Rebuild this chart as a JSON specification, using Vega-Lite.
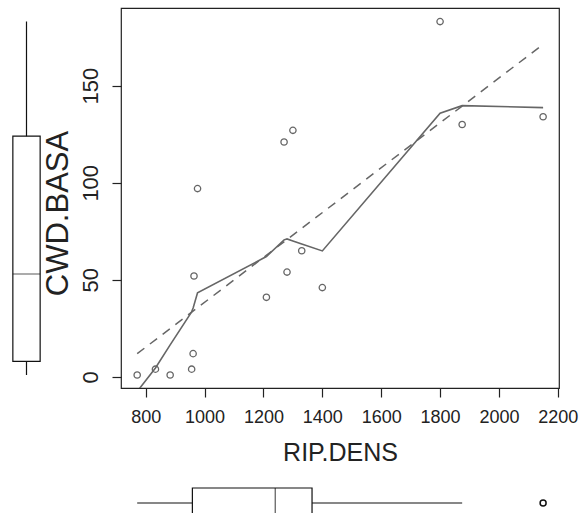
{
  "$schema": "https://vega.github.io/schema/vega-lite/v6.json",
  "padding": {"left": 0, "top": 7, "right": 0, "bottom": 0},
  "autosize": {"type": "pad"},
  "background": "white",
  "config": {
    "view": {"stroke": null},
    "font": "Liberation Sans",
    "axis": {"grid": false, "domain": false, "tickColor": "#222", "tickWidth": 1.2, "labelColor": "#222", "titleColor": "#222", "titleFontWeight": "normal", "labelFont": "Liberation Sans", "titleFont": "Liberation Sans"}
  },
  "datasets": {
    "lakes": [
      {"RIP": 1270, "CWD": 121}, {"RIP": 1210, "CWD": 41}, {"RIP": 1800, "CWD": 183}, {"RIP": 1875, "CWD": 130},
      {"RIP": 1300, "CWD": 127}, {"RIP": 2150, "CWD": 134}, {"RIP": 1330, "CWD": 65}, {"RIP": 964, "CWD": 52},
      {"RIP": 961, "CWD": 12}, {"RIP": 1400, "CWD": 46}, {"RIP": 1280, "CWD": 54}, {"RIP": 976, "CWD": 97},
      {"RIP": 771, "CWD": 1}, {"RIP": 833, "CWD": 4}, {"RIP": 883, "CWD": 1}, {"RIP": 956, "CWD": 4}
    ],
    "lowess": [
      {"RIP": 771, "CWD": -7.5}, {"RIP": 833, "CWD": 4.6}, {"RIP": 883, "CWD": 16.5}, {"RIP": 956, "CWD": 33.5},
      {"RIP": 961, "CWD": 35.5}, {"RIP": 964, "CWD": 37}, {"RIP": 976, "CWD": 43.3}, {"RIP": 1210, "CWD": 62},
      {"RIP": 1270, "CWD": 70.6}, {"RIP": 1280, "CWD": 71.1}, {"RIP": 1300, "CWD": 70}, {"RIP": 1330, "CWD": 68.4},
      {"RIP": 1400, "CWD": 64.9}, {"RIP": 1800, "CWD": 135.8}, {"RIP": 1875, "CWD": 139.7}, {"RIP": 2150, "CWD": 138.7}
    ],
    "boxCWD": [{"variable": "CWD.BASA", "lower": 1, "q1": 8, "median": 53, "q3": 124, "upper": 183}],
    "boxRIP": [{"variable": "RIP.DENS", "lower": 771, "q1": 958.5, "median": 1240, "q3": 1365, "upper": 1875}],
    "outRIP": [{"variable": "RIP.DENS", "RIP": 2150}]
  },
  "bounds": "flush",
  "spacing": 68,
  "hconcat": [
    {
      "width": 53,
      "height": 380,
      "data": {"name": "boxCWD"},
      "view": {"fill": "white", "stroke": null},
      "encoding": {
        "x": {"field": "variable", "type": "nominal", "axis": null, "scale": {"paddingInner": 0, "paddingOuter": 0}}
      },
      "layer": [
        {
          "mark": {"type": "rule", "color": "#111", "strokeWidth": 1.2},
          "encoding": {
            "y": {"field": "lower", "type": "quantitative", "axis": null, "scale": {"domain": [-5.7, 190], "nice": false, "zero": false}},
            "y2": {"field": "upper"}
          }
        },
        {
          "mark": {"type": "bar", "size": 27.3, "fill": "white", "stroke": "#111", "strokeWidth": 1.2},
          "encoding": {
            "y": {"field": "q1", "type": "quantitative", "axis": null},
            "y2": {"field": "q3"}
          }
        },
        {
          "mark": {"type": "tick", "size": 27.3, "thickness": 1.2, "color": "#111"},
          "encoding": {
            "y": {"field": "median", "type": "quantitative", "axis": null}
          }
        }
      ]
    },
    {
      "bounds": "flush",
      "spacing": 98,
      "vconcat": [
        {
          "width": 438,
          "height": 380,
          "view": {"stroke": "#222", "strokeWidth": 1.2},
          "encoding": {
            "x": {
              "field": "RIP", "type": "quantitative",
              "scale": {"domain": [716, 2204], "nice": false, "zero": false},
              "axis": {"values": [800, 1000, 1200, 1400, 1600, 1800, 2000, 2200], "format": "d", "tickSize": 9, "labelFontSize": 18, "labelPadding": 11, "title": "RIP.DENS", "titleFontSize": 25, "titlePadding": 14, "labelFlush": false}
            },
            "y": {
              "field": "CWD", "type": "quantitative",
              "scale": {"domain": [-5.7, 190], "nice": false, "zero": false},
              "axis": {"values": [0, 50, 100, 150], "format": "d", "tickSize": 9, "labelFontSize": 22, "labelAngle": -90, "labelPadding": 10, "title": "CWD.BASA", "titleFontSize": 31, "titlePadding": 5, "titleY": 205}
            }
          },
          "layer": [
            {
              "data": {"name": "lakes"},
              "transform": [{"regression": "CWD", "on": "RIP"}],
              "mark": {"type": "line", "strokeDash": [9, 7], "color": "#666666", "strokeWidth": 1.5}
            },
            {
              "data": {"name": "lowess"},
              "mark": {"type": "line", "clip": true, "color": "#666666", "strokeWidth": 1.6}
            },
            {
              "data": {"name": "lakes"},
              "mark": {"type": "point", "shape": "circle", "filled": false, "size": 40, "color": "#666666", "strokeWidth": 1.3, "opacity": 1}
            }
          ]
        },
        {
          "width": 438,
          "height": 28,
          "data": {"name": "boxRIP"},
          "encoding": {
            "y": {"field": "variable", "type": "nominal", "axis": null, "scale": {"type": "point", "align": 0.607}}
          },
          "layer": [
            {
              "mark": {"type": "rule", "color": "#111", "strokeWidth": 1.2},
              "encoding": {
                "x": {"field": "lower", "type": "quantitative", "axis": null, "scale": {"domain": [716, 2204], "nice": false, "zero": false}},
                "x2": {"field": "upper"}
              }
            },
            {
              "mark": {"type": "bar", "size": 30, "clip": true, "fill": "white", "stroke": "#111", "strokeWidth": 1.2},
              "encoding": {
                "x": {"field": "q1", "type": "quantitative", "axis": null},
                "x2": {"field": "q3"}
              }
            },
            {
              "mark": {"type": "tick", "size": 30, "thickness": 1.2, "clip": true, "color": "#111"},
              "encoding": {
                "x": {"field": "median", "type": "quantitative", "axis": null}
              }
            },
            {
              "data": {"name": "outRIP"},
              "mark": {"type": "point", "shape": "circle", "filled": false, "size": 36, "color": "#111", "strokeWidth": 1.5, "opacity": 1},
              "encoding": {
                "x": {"field": "RIP", "type": "quantitative", "axis": null}
              }
            }
          ]
        }
      ]
    }
  ]
}
